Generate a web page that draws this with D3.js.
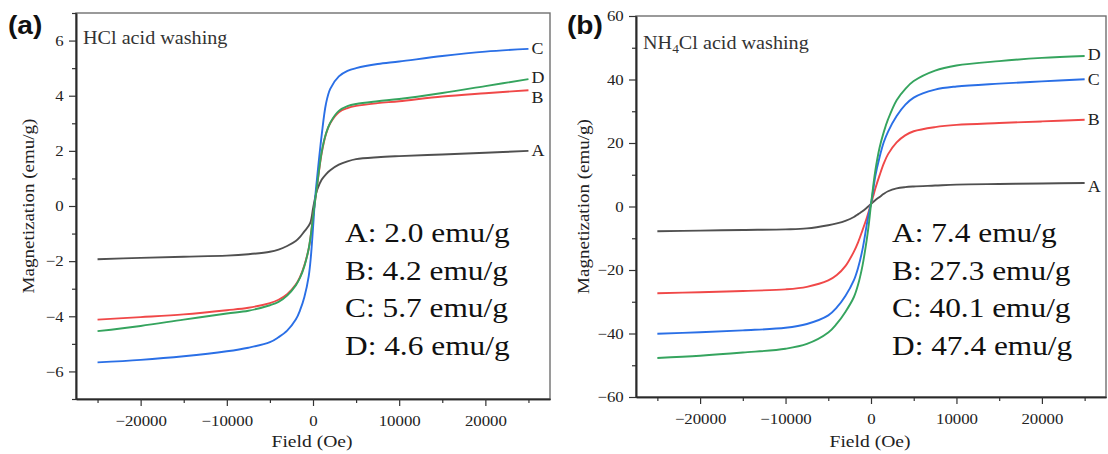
<!DOCTYPE html>
<html>
<head>
<meta charset="utf-8">
<script src="https://cdn.jsdelivr.net/npm/d3@7"></script>
<style>
  body { margin: 0; background: #fff; }
  svg { display: block; }
  text { font-family: "Liberation Serif", "Times New Roman", serif; }
</style>
</head>
<body>
<svg id="chart" width="1108" height="454"></svg>
<script>
// Applied field (Oe) at which magnetization was sampled
const fieldOe = [-25000, -20000, -15000, -10000, -7500, -5000, -4000, -3000, -2000, -1500, -1000, -500, -250,
                 0, 250, 500, 1000, 1500, 2000, 3000, 4000, 5000, 7500, 10000, 15000, 20000, 25000];

// HCl acid washing: magnetization (emu/g) of samples A–D
const hclA = [-1.93, -1.88, -1.84, -1.80, -1.75, -1.66, -1.58, -1.45, -1.27, -1.12, -0.92, -0.72, -0.55,
              -0.10, 0.30, 0.60, 0.95, 1.15, 1.30, 1.50, 1.62, 1.70, 1.77, 1.81, 1.87, 1.93, 2.0];
const hclB = [-4.12, -4.03, -3.93, -3.78, -3.69, -3.52, -3.40, -3.20, -2.85, -2.57, -2.15, -1.55, -1.05,
              -0.40, 0.20, 0.80, 1.90, 2.60, 3.00, 3.40, 3.55, 3.63, 3.73, 3.80, 3.97, 4.09, 4.2];
const hclC = [-5.67, -5.58, -5.45, -5.27, -5.14, -4.94, -4.76, -4.52, -4.12, -3.78, -3.30, -2.55, -1.85,
              -0.80, 0.30, 1.10, 2.55, 3.70, 4.25, 4.70, 4.90, 5.00, 5.15, 5.24, 5.44, 5.60, 5.7];
const hclD = [-4.54, -4.35, -4.12, -3.90, -3.80, -3.60, -3.48, -3.25, -2.88, -2.60, -2.18, -1.55, -1.05,
              -0.40, 0.20, 0.80, 1.95, 2.62, 3.02, 3.45, 3.62, 3.70, 3.80, 3.88, 4.10, 4.35, 4.6];

// NH4Cl acid washing: magnetization (emu/g) of samples A–D
const nh4A = [-7.8, -7.6, -7.4, -7.2, -6.9, -5.9, -5.3, -4.5, -3.3, -2.4, -1.5, -0.4, 0.2,
              0.8, 1.4, 2.0, 3.0, 4.0, 4.8, 5.7, 6.1, 6.3, 6.6, 6.9, 7.1, 7.25, 7.4];
const nh4B = [-27.3, -27.0, -26.6, -26.1, -25.3, -23.3, -21.6, -18.8, -14.2, -11.2, -7.5, -3.6, -1.4,
              0.8, 3.2, 5.6, 9.8, 13.6, 16.5, 20.2, 22.4, 23.7, 25.0, 25.7, 26.3, 26.8, 27.3];
const nh4C = [-40.1, -39.6, -39.0, -38.2, -37.0, -34.3, -31.8, -28.2, -23.2, -19.2, -13.6, -5.8, -2.2,
              0.9, 5.0, 9.5, 15.5, 20.3, 23.6, 28.5, 32.0, 34.3, 36.8, 37.8, 38.7, 39.4, 40.1];
const nh4D = [-47.7, -47.0, -46.0, -44.8, -43.3, -39.7, -36.9, -33.2, -28.5, -24.5, -18.7, -10.5, -5.5,
              0.7, 6.2, 11.2, 18.5, 23.5, 27.5, 33.5, 37.0, 39.5, 42.8, 44.4, 45.8, 46.8, 47.4];

const sampleNames = ["A", "B", "C", "D"];
const hclSaturation = [2.0, 4.2, 5.7, 4.6];
const nh4Saturation = [7.4, 27.3, 40.1, 47.4];

const fieldTicks = [-20000, -10000, 0, 10000, 20000];
const fieldMinorTicks = [-25000, -15000, -5000, 5000, 15000, 25000];
const hclTicks = [-6, -4, -2, 0, 2, 4, 6];
const hclMinorTicks = [-7, -5, -3, -1, 1, 3, 5, 7];
const nh4Ticks = [-60, -40, -20, 0, 20, 40, 60];
const nh4MinorTicks = [-50, -30, -10, 10, 30, 50];

const colors = { A: "#505050", B: "#f04848", C: "#2a6fe6", D: "#35a45e" };
const SERIF = "'Liberation Serif', 'Times New Roman', serif";
const SX = 1.12;   // horizontal text stretch of the figure's lettering

const svg = d3.select("#chart");

// text positioned at (x, y) and widened horizontally by sx
function wideText(parent, x, y, str, size, sx = SX) {
  return parent.append("text")
    .attr("transform", `translate(${x},${y}) scale(${sx},1)`)
    .style("font-family", SERIF)
    .style("font-size", size + "px")
    .text(str);
}

function drawPanel(p) {
  const x = d3.scaleLinear().domain([-27500, 27500]).range([p.left, p.right]);
  const y = d3.scaleLinear().domain(p.yDomain).range([p.bottom, p.top]);
  const g = svg.append("g");

  // frame
  g.append("rect")
    .attr("x", p.left).attr("y", p.top)
    .attr("width", p.right - p.left).attr("height", p.bottom - p.top)
    .attr("fill", "none").attr("stroke", "#707070").attr("stroke-width", 1.4);

  const styleAxis = sel => {
    sel.select(".domain").attr("stroke", "#2a2a2a").attr("stroke-width", 1.6);
    sel.selectAll(".tick line").attr("stroke", "#333").attr("stroke-width", 1.2);
    sel.selectAll(".tick text")
      .attr("fill", "#222")
      .attr("transform", `scale(${SX},1)`)
      .style("font-family", SERIF)
      .style("font-size", "15px");
  };

  // bottom axis, major + minor ticks
  g.append("g").attr("transform", `translate(0,${p.bottom})`)
    .call(d3.axisBottom(x).tickValues(fieldMinorTicks).tickSize(4).tickSizeOuter(0).tickFormat(""))
    .call(styleAxis);
  g.append("g").attr("transform", `translate(0,${p.bottom})`)
    .call(d3.axisBottom(x).tickValues(fieldTicks).tickSize(7).tickSizeOuter(0)
      .tickPadding(9).tickFormat(d3.format("d")))
    .call(styleAxis);

  // left axis, major + minor ticks
  g.append("g").attr("transform", `translate(${p.left},0)`)
    .call(d3.axisLeft(y).tickValues(p.minorTicks).tickSize(4).tickSizeOuter(0).tickFormat(""))
    .call(styleAxis);
  g.append("g").attr("transform", `translate(${p.left},0)`)
    .call(d3.axisLeft(y).tickValues(p.ticks).tickSize(7).tickSizeOuter(0)
      .tickPadding(4).tickFormat(d3.format("d")))
    .call(styleAxis);

  // axis titles
  wideText(g, (p.left + p.right) / 2 - 1, 447, "Field (Oe)", 17.5)
    .attr("text-anchor", "middle").attr("fill", "#222");
  g.append("text")
    .attr("transform", `translate(${p.yTitleX},${(p.top + p.bottom) / 2}) rotate(-90) scale(${SX},1)`)
    .attr("text-anchor", "middle").attr("fill", "#222")
    .style("font-family", SERIF).style("font-size", "17px")
    .text("Magnetization (emu/g)");

  // magnetization curves
  const line = d3.line()
    .x(d => x(d[0])).y(d => y(d[1]))
    .curve(d3.curveCatmullRom.alpha(0.5));
  p.series.forEach((vals, i) => {
    const name = sampleNames[i];
    g.append("path")
      .datum(fieldOe.map((h, k) => [h, vals[k]]))
      .attr("fill", "none")
      .attr("stroke", colors[name])
      .attr("stroke-width", 1.9)
      .attr("d", line);
    wideText(g, x(fieldOe[fieldOe.length - 1]) + 3,
             y(vals[vals.length - 1]) + (p.labelNudge[name] || 0), name, 16)
      .attr("dy", "0.35em")
      .attr("fill", "#222");
  });

  // panel caption
  const cap = wideText(g, p.left + 7, p.captionY, "", 18).attr("fill", "#333");
  p.caption(cap);

  // saturation magnetization summary
  sampleNames.forEach((name, i) => {
    wideText(g, p.noteX, 242 + i * 37.7, `${name}: ${p.saturation[i].toFixed(1)} emu/g`, 28)
      .attr("fill", "#111");
  });

  // panel letter
  g.append("text")
    .attr("transform", `translate(${p.letterX},34) scale(1.08,1)`)
    .style("font-family", "'Liberation Sans', Arial, sans-serif")
    .style("font-weight", "bold").style("font-size", "26px")
    .attr("fill", "#111").text(p.letter);
}

drawPanel({
  left: 76, right: 550, top: 13, bottom: 399,
  yDomain: [-7, 7], ticks: hclTicks, minorTicks: hclMinorTicks,
  series: [hclA, hclB, hclC, hclD], saturation: hclSaturation,
  labelNudge: { B: 7, D: -2 },
  yTitleX: 34, noteX: 345, letterX: 8, letter: "(a)", captionY: 44,
  caption: t => t.text("HCl acid washing")
});

drawPanel({
  left: 636, right: 1106, top: 16, bottom: 397,
  yDomain: [-60, 60], ticks: nh4Ticks, minorTicks: nh4MinorTicks,
  series: [nh4A, nh4B, nh4C, nh4D], saturation: nh4Saturation,
  labelNudge: { A: 3, D: -2 },
  yTitleX: 589, noteX: 892, letterX: 567, letter: "(b)", captionY: 49,
  caption: t => {
    t.append("tspan").text("NH");
    t.append("tspan").attr("dy", 4).style("font-size", "12px").text("4");
    t.append("tspan").attr("dy", -4).text("Cl acid washing");
  }
});
</script>
</body>
</html>
